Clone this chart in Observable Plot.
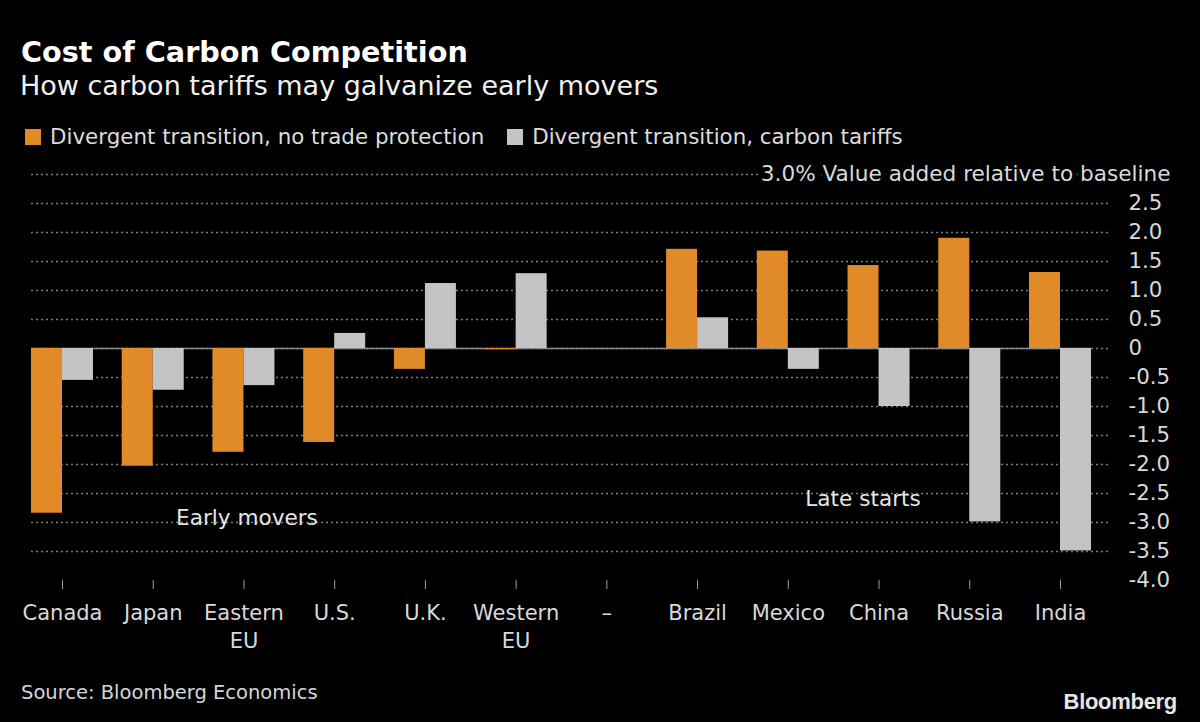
<!DOCTYPE html>
<html>
<head>
<meta charset="utf-8">
<script src="https://cdn.jsdelivr.net/npm/d3@7"></script>
<script src="https://cdn.jsdelivr.net/npm/@observablehq/plot@0.6"></script>
<style>
  html, body { margin: 0; padding: 0; background: #000; }
  body { width: 1200px; height: 722px; position: relative; overflow: hidden; font-family: "DejaVu Sans", sans-serif; }
  .abs { position: absolute; white-space: nowrap; line-height: 1; }
  #title { left: 21px; top: 38px; font-size: 28.7px; font-weight: bold; color: #fff; }
  #subtitle { left: 20px; top: 72.3px; font-size: 27px; color: #f0f0f0; }
  #legend { left: 25px; top: 126px; font-size: 21.4px; color: #dcdcdc; display: flex; align-items: center; }
  .sw { width: 16px; height: 16px; display: inline-block; margin-right: 9px; }
  .item { display: inline-flex; align-items: center; margin-right: 23px; }
  #chart { position: absolute; left: 0; top: 150px; }
  #source { left: 21px; top: 682.5px; font-size: 19.5px; color: #d6d6d6; }
  #logo { right: 23px; top: 691px; font-size: 22px; font-weight: bold; color: #e6e6e6; font-family: "Liberation Sans", Arial, sans-serif; letter-spacing: -0.3px; }
</style>
</head>
<body>
<div id="title" class="abs">Cost of Carbon Competition</div>
<div id="subtitle" class="abs">How carbon tariffs may galvanize early movers</div>
<div id="legend" class="abs"></div>
<div id="chart"></div>
<div id="source" class="abs">Source: Bloomberg Economics</div>
<div id="logo" class="abs">Bloomberg</div>
<script>
// ---- data ----
const countries = ["Canada", "Japan", "Eastern EU", "U.S.", "U.K.", "Western EU", "–", "Brazil", "Mexico", "China", "Russia", "India"];
const noProtection = [-2.84, -2.03, -1.79, -1.62, -0.36, -0.02, null, 1.71, 1.68, 1.43, 1.90, 1.31];
const carbonTariffs = [-0.55, -0.72, -0.64, 0.26, 1.12, 1.29, null, 0.53, -0.36, -1.0, -2.99, -3.49];
const seriesNames = ["Divergent transition, no trade protection", "Divergent transition, carbon tariffs"];
const seriesColors = ["#e08a28", "#c4c4c4"];
const yTickValues = [-4, -3.5, -3, -2.5, -2, -1.5, -1, -0.5, 0, 0.5, 1, 1.5, 2, 2.5];
const gridValues = [-3.5, -3, -2.5, -2, -1.5, -1, -0.5, 0, 0.5, 1, 1.5, 2, 2.5, 3];
const topTick = [{value: 3, label: "3.0% Value added relative to baseline"}];
const earlyNote = [{country: "Eastern EU", value: -2.93, text: "Early movers"}];
const lateNote = [{country: "China", value: -2.59, text: "Late starts"}];

// ---- legend ----
const legend = document.getElementById("legend");
seriesNames.forEach((name, i) => {
  const item = document.createElement("span");
  item.className = "item";
  const sw = document.createElement("span");
  sw.className = "sw";
  sw.style.background = seriesColors[i];
  item.appendChild(sw);
  const t = document.createElement("span");
  t.textContent = name;
  item.appendChild(t);
  legend.appendChild(item);
});

// ---- layout ----
const W = 1200, H = 572, mL = 31, mR = 109, mT = 24, mB = 142;
const pInner = 0.3166;
const step = (W - mL - mR) / (countries.length - pInner);
const half = step * (1 - pInner) / 2;

const rowsA = countries.map((c, i) => ({country: c, value: noProtection[i]})).filter(d => d.value != null);
const rowsB = countries.map((c, i) => ({country: c, value: carbonTariffs[i]})).filter(d => d.value != null);

const chart = Plot.plot({
  width: W, height: H,
  marginTop: mT, marginBottom: mB, marginLeft: mL, marginRight: mR,
  style: {background: "transparent", color: "#d9d9d9", fontFamily: "DejaVu Sans, sans-serif", fontSize: "21px"},
  x: {domain: countries, paddingInner: pInner, paddingOuter: 0, round: false, label: null},
  y: {domain: [-4, 3], label: null},
  marks: [
    Plot.ruleY(gridValues, {stroke: "#7c7c7c", strokeWidth: 1.3, strokeDasharray: "2,3", insetRight: -17}),
    Plot.ruleY([0], {stroke: "#8c8c8c", strokeWidth: 1.5}),
    Plot.barY(rowsA, {x: "country", y: "value", fill: seriesColors[0], insetRight: half}),
    Plot.barY(rowsB, {x: "country", y: "value", fill: seriesColors[1], insetLeft: half}),
    Plot.axisX({tickSize: 9, tickPadding: 11, stroke: "#a0a0a0", fill: "#d9d9d9", fontSize: 21, lineHeight: 28 / 21,
      tickFormat: d => d.replace(" EU", "\nEU")}),
    Plot.axisY({anchor: "right", ticks: yTickValues, tickSize: 0, tickPadding: 37, textAnchor: "start",
      fill: "#d9d9d9", fontSize: 21.3, tickFormat: v => v === 0 ? "0" : v.toFixed(1)}),
    Plot.text(topTick, {y: "value", text: "label", frameAnchor: "right", dx: 79, textAnchor: "end",
      fill: "#d9d9d9", fontSize: 21.6, stroke: "#000", strokeWidth: 9, paintOrder: "stroke"}),
    Plot.text(earlyNote, {x: "country", y: "value", text: "text", dx: 3, fill: "#e6e6e6", fontSize: 21.6}),
    Plot.text(lateNote, {x: "country", y: "value", text: "text", dx: -16, fill: "#e6e6e6", fontSize: 21.6})
  ]
});
document.getElementById("chart").appendChild(chart);
</script>
</body>
</html>
